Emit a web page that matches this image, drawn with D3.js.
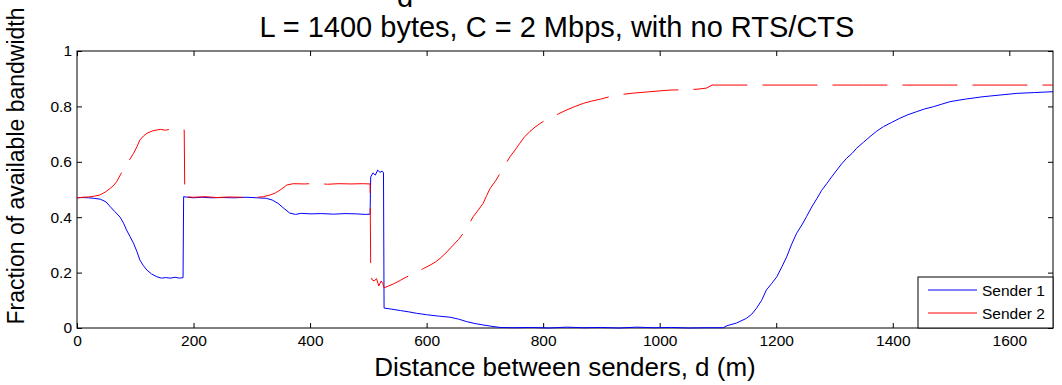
<!DOCTYPE html>
<html>
<head>
<meta charset="utf-8">
<script src="https://cdn.jsdelivr.net/npm/d3@7"></script>
<style>
  body { margin: 0; background: #fff; }
  svg { font-family: "Liberation Sans", Arial, sans-serif; }
</style>
</head>
<body>
<svg id="chart"></svg>
<script>
// values
const xTicks = [0, 200, 400, 600, 800, 1000, 1200, 1400, 1600];
const yTicks = [0, 0.2, 0.4, 0.6, 0.8, 1];

const s1Dist = [0, 10, 20, 30, 40, 50, 57, 65, 74, 80, 85, 91, 97, 103, 108, 114, 120, 128, 137, 145, 152, 160, 168, 176, 182,
  183, 190, 200, 215, 230, 250, 270, 290, 310, 325, 335, 345, 355, 365, 375, 385, 400, 420, 440, 460, 480, 495, 503,
  504, 508, 512, 516, 520, 524, 526,
  527, 540, 555, 570, 583, 600, 620, 640, 655, 669, 683, 697, 712, 726, 750, 780, 810, 840, 870, 900, 930, 960, 990, 1020, 1050, 1080, 1109,
  1115, 1132, 1149, 1158, 1166, 1175, 1183, 1192, 1201, 1210, 1218, 1226, 1235, 1244, 1252, 1261, 1270, 1278, 1287, 1296, 1304, 1312,
  1321, 1330, 1338, 1350, 1361, 1372, 1384, 1398, 1412, 1426, 1441, 1455, 1470, 1484, 1498, 1512, 1527, 1541, 1555, 1584, 1613, 1643, 1675];
const s1Frac = [0.470, 0.471, 0.470, 0.468, 0.465, 0.455, 0.438, 0.420, 0.400, 0.378, 0.354, 0.330, 0.306, 0.275, 0.245, 0.225, 0.209, 0.195, 0.185, 0.180, 0.182, 0.180, 0.183, 0.180, 0.182,
  0.474, 0.472, 0.470, 0.472, 0.470, 0.471, 0.470, 0.472, 0.470, 0.468, 0.462, 0.450, 0.432, 0.415, 0.410, 0.414, 0.412, 0.413, 0.411, 0.413, 0.412, 0.410, 0.411,
  0.545, 0.560, 0.552, 0.570, 0.562, 0.566, 0.560,
  0.072, 0.068, 0.063, 0.058, 0.053, 0.048, 0.043, 0.039, 0.032, 0.023, 0.016, 0.011, 0.006, 0.002, 0.001, 0.002, 0.000, 0.003, 0.001, 0.002, 0.000, 0.003, 0.001, 0.002, 0.000, 0.001, 0.001,
  0.008, 0.018, 0.035, 0.050, 0.071, 0.100, 0.137, 0.160, 0.185, 0.222, 0.257, 0.300, 0.342, 0.372, 0.402, 0.437, 0.468, 0.497, 0.522, 0.548, 0.570, 0.592,
  0.613, 0.630, 0.649, 0.671, 0.691, 0.710, 0.727, 0.742, 0.757, 0.770, 0.781, 0.791, 0.799, 0.808, 0.817, 0.822, 0.827, 0.831, 0.835, 0.841, 0.847, 0.850, 0.853];

const s2Dist = [0, 10, 20, 30, 39, 48, 57, 63, 68, 75, 82, 90, 97, 103, 108, 114, 120, 130, 143, 152, 160, 170, 178, 184,
  185, 200, 220, 240, 260, 280, 300, 310, 320, 331, 340, 350, 360, 371, 390, 410, 430, 450, 470, 490, 503,
  504, 506, 510, 514, 518, 522, 525, 527, 535, 543, 555, 566, 575, 583, 595, 606, 615, 623, 635, 646, 655, 663, 672, 680, 689, 697,
  703, 709, 718, 726, 735, 743, 752, 760, 768, 777, 786, 795, 803, 812, 826, 840, 855, 869, 883, 898, 912, 926, 955, 983, 1000, 1018,
  1040, 1064, 1080, 1090, 1150, 1250, 1350, 1450, 1550, 1675];
const s2Frac = [0.470, 0.472, 0.473, 0.476, 0.480, 0.490, 0.504, 0.515, 0.528, 0.555, 0.582, 0.607, 0.630, 0.655, 0.679, 0.693, 0.703, 0.712, 0.717, 0.714, 0.718, 0.715, 0.716, 0.715,
  0.474, 0.472, 0.474, 0.471, 0.473, 0.472, 0.473, 0.472, 0.474, 0.480, 0.487, 0.500, 0.516, 0.521, 0.520, 0.522, 0.519, 0.521, 0.520, 0.521, 0.520,
  0.233, 0.175, 0.170, 0.178, 0.152, 0.170, 0.160, 0.145, 0.152, 0.159, 0.172, 0.185, 0.193, 0.203, 0.215, 0.227, 0.238, 0.251, 0.275, 0.300, 0.320, 0.342, 0.372, 0.402, 0.427, 0.450,
  0.478, 0.504, 0.530, 0.558, 0.590, 0.618, 0.643, 0.667, 0.690, 0.709, 0.725, 0.739, 0.749, 0.757, 0.773, 0.787, 0.800, 0.811, 0.819, 0.826, 0.834, 0.841, 0.848, 0.853, 0.856, 0.859,
  0.860, 0.862, 0.866, 0.877, 0.877, 0.877, 0.877, 0.877, 0.877, 0.877];

const seriesNames = ["Sender 1", "Sender 2"];
const seriesColors = ["#0000ff", "#ff0000"];

const W = 1062, H = 385;
const margin = { top: 51, right: 9, bottom: 57, left: 77 },
    width = W - margin.left - margin.right,
    height = H - margin.top - margin.bottom;

const svg = d3.select("#chart").attr("width", W).attr("height", H);
const g = svg.append("g").attr("transform", `translate(${margin.left},${margin.top})`);

const x = d3.scaleLinear().domain([0, 1675]).range([0, width]);
const y = d3.scaleLinear().domain([0, 1]).range([height, 0]);

// axes, ticks pointing inward like matlab
const styleAxis = sel => {
    sel.select(".domain").remove();
    sel.selectAll("line").attr("stroke", "#000");
    sel.selectAll("text").attr("fill", "#000").style("font-size", "15.5px");
};

g.append("g")
    .attr("transform", `translate(0,${height})`)
    .call(d3.axisBottom(x).tickValues(xTicks).tickSize(-5).tickPadding(7).tickFormat(d3.format("d")))
    .call(styleAxis);
g.append("g")
    .call(d3.axisTop(x).tickValues(xTicks).tickSize(-5).tickFormat(""))
    .call(styleAxis);
g.append("g")
    .call(d3.axisLeft(y).tickValues(yTicks).tickSize(-5).tickPadding(5).tickFormat(d => d))
    .call(styleAxis);
g.append("g")
    .attr("transform", `translate(${width},0)`)
    .call(d3.axisRight(y).tickValues(yTicks).tickSize(-5).tickFormat(""))
    .call(styleAxis);

g.append("rect")
    .attr("width", width).attr("height", height)
    .attr("fill", "none").attr("stroke", "#000").attr("stroke-width", 1);

// lines
const line = d3.line()
    .x(d => x(d[0]))
    .y(d => y(d[1]));

g.append("path")
    .datum(d3.zip(s1Dist, s1Frac))
    .attr("fill", "none")
    .attr("stroke", seriesColors[0])
    .attr("stroke-width", 1)
    .attr("d", line);

g.append("path")
    .datum(d3.zip(s2Dist, s2Frac))
    .attr("fill", "none")
    .attr("stroke", seriesColors[1])
    .attr("stroke-width", 1)
    .attr("stroke-dasharray", "55,15")
    .attr("d", line);

// titles and labels
svg.append("text")
    .attr("x", 405).attr("y", 7)
    .attr("text-anchor", "middle")
    .style("font-size", "29px")
    .text("d");

svg.append("text")
    .attr("x", 557).attr("y", 37)
    .attr("text-anchor", "middle")
    .style("font-size", "29px")
    .text("L = 1400 bytes, C = 2 Mbps, with no RTS/CTS");

svg.append("text")
    .attr("x", margin.left + width / 2).attr("y", 376)
    .attr("text-anchor", "middle")
    .style("font-size", "26px")
    .text("Distance between senders, d (m)");

svg.append("text")
    .attr("transform", "rotate(-90)")
    .attr("x", -166).attr("y", 24)
    .attr("text-anchor", "middle")
    .style("font-size", "23px")
    .text("Fraction of available bandwidth");

// legend
const legW = 135, legH = 51;
const legend = g.append("g")
    .attr("transform", `translate(${width - legW},${height - legH})`);
legend.append("rect")
    .attr("width", legW).attr("height", legH)
    .attr("fill", "#fff").attr("stroke", "#000");
seriesNames.forEach((name, i) => {
    const ly = 13 + i * 23;
    legend.append("line")
        .attr("x1", 10).attr("x2", 59).attr("y1", ly).attr("y2", ly)
        .attr("stroke", seriesColors[i]);
    legend.append("text")
        .attr("x", 64).attr("y", ly + 6)
        .style("font-size", "15.5px")
        .text(name);
});
</script>
</body>
</html>
